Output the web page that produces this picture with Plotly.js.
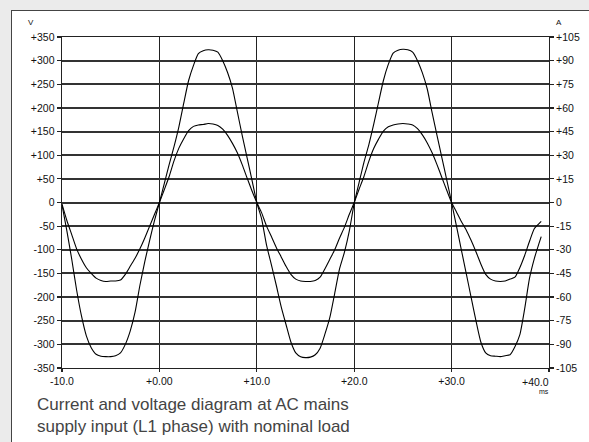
<!DOCTYPE html>
<html><head><meta charset="utf-8">
<script src="https://cdn.plot.ly/plotly-3.0.1.min.js"></script>
<style>
html,body{margin:0;padding:0;background:#ebebeb;width:589px;height:442px;overflow:hidden;}
#panel{position:absolute;left:11px;top:10px;width:600px;height:450px;background:#fff;border-left:1px solid #444;border-top:1px solid #444;}
#chart{position:absolute;left:0;top:0;width:589px;height:442px;}
</style></head>
<body><div id="panel"></div><div id="chart"></div>
<script>
// time in ms
const timeMs = [-10,-9.5,-9,-8.5,-8,-7.5,-7,-6.5,-6,-5.5,-5,-4.5,-4,-3.5,-3,-2.5,-2,-1.5,-1,-0.5,
 0,0.5,1,1.5,2,2.5,3,3.5,4,4.5,5,5.5,6,6.5,7,7.5,8,8.5,9,9.5,
 10,10.5,11,11.5,12,12.5,13,13.5,14,14.5,15,15.5,16,16.5,17,17.5,18,18.5,19,19.5,
 20,20.5,21,21.5,22,22.5,23,23.5,24,24.5,25,25.5,26,26.5,27,27.5,28,28.5,29,29.5,
 30,30.5,31,31.5,32,32.5,33,33.5,34,34.5,35,35.5,36,36.5,37,37.5,38,38.5,39,39.2];
// voltage (V, left axis)
const voltageV = [-5,-60,-120,-185,-240,-282,-307,-321,-325,-326,-326,-324,-318,-300,-272,-232,-175,-125,-80,-38,
 0,40,80,118,160,210,258,290,315,321,323,322,318,300,275,242,192,142,95,48,
 0,-35,-90,-132,-175,-220,-258,-295,-318,-326,-328,-327,-322,-308,-278,-243,-192,-140,-105,-60,
 -2,42,85,122,165,212,258,292,316,322,324,323,318,300,274,240,190,142,95,48,
 0,-50,-100,-150,-200,-250,-295,-318,-324,-325,-326,-324,-322,-305,-280,-225,-160,-118,-85,-72];
// current (A, right axis)
const currentA = [-1,-11.4,-20.4,-29.4,-36,-41.4,-45,-48,-49.5,-50.1,-49.8,-49.8,-49.2,-45.6,-40.5,-35.4,-29.4,-22.5,-15,-7.5,
 0,8.1,16.5,26.4,34.5,40.5,45.6,48.3,49.2,49.5,50.1,49.8,48.9,46.5,42.6,37.5,31.5,24,15.6,7.5,
 0,-6.6,-15,-21.6,-28.5,-34.5,-40.5,-45.6,-48.6,-49.8,-50.1,-50.1,-49.5,-47.4,-42,-36,-30,-22.5,-15.6,-7.5,
 0,8.4,16.5,26.1,34.2,40.2,45.3,48,49.2,49.8,50.1,49.8,49.2,46.8,42.9,37.8,31.5,24,15.9,7.8,
 0,-6,-12,-17.4,-24,-31.2,-39,-45.6,-48.6,-49.8,-50.1,-49.8,-48.6,-47.4,-41.4,-33.6,-24.6,-16.5,-13.2,-12];

const vTicks = [350,300,250,200,150,100,50,0,-50,-100,-150,-200,-250,-300,-350];
const vLabels = ["+350","+300","+250","+200","+150","+100","+50","0","-50","-100","-150","-200","-250","-300","-350"];
const aTicks = [105,90,75,60,45,30,15,0,-15,-30,-45,-60,-75,-90,-105];
const aLabels = ["+105","+90","+75","+60","+45","+30","+15","0","-15","-30","-45","-60","-75","-90","-105"];
const xTicks = [-10,0,10,20,30,40];
const xLabels = ["-10.0","+0.00","+10.0","+20.0","+30.0","+40.0"];
const captionLines = ["Current and voltage diagram at AC mains","supply input (L1 phase) with nominal load"];

const W=589,H=442,L=62,R=40,T=37,B=74;
const pw=W-L-R, ph=H-T-B;
const px=x=>(x-L)/pw, py=y=>(H-B-y)/ph;
const tickFont={family:'"Liberation Sans", Arial, sans-serif',size:10.5,color:'#111'};
const capFont={family:'"Liberation Sans", Arial, sans-serif',size:17,color:'#444'};

const traces=[
 {x:timeMs,y:voltageV,type:'scatter',mode:'lines',line:{color:'#000',width:1.1,shape:'spline',smoothing:0.6},yaxis:'y',hoverinfo:'skip'},
 {x:timeMs,y:currentA,type:'scatter',mode:'lines',line:{color:'#000',width:1.1,shape:'spline',smoothing:0.6},yaxis:'y2',hoverinfo:'skip'}
];

const xText = xLabels.map((t,i)=> i===xLabels.length-1 ? '' : t);
const annotations=[
 {xref:'x',yref:'paper',x:xTicks[xTicks.length-1],y:0,xanchor:'right',yanchor:'top',yshift:-6,xshift:2,text:xLabels[xLabels.length-1],showarrow:false,font:tickFont},
 {xref:'paper',yref:'paper',x:px(544),y:py(391),xanchor:'center',yanchor:'middle',text:'ms',showarrow:false,font:{family:tickFont.family,size:7,color:'#111'}},
 {xref:'paper',yref:'paper',x:px(31),y:py(23),xanchor:'center',yanchor:'middle',text:'V',showarrow:false,font:{family:tickFont.family,size:8,color:'#111'}},
 {xref:'paper',yref:'paper',x:px(559),y:py(23),xanchor:'center',yanchor:'middle',text:'A',showarrow:false,font:{family:tickFont.family,size:8,color:'#111'}},
 {xref:'paper',yref:'paper',x:px(35),y:py(404),xanchor:'left',yanchor:'middle',text:captionLines[0],showarrow:false,font:capFont},
 {xref:'paper',yref:'paper',x:px(35),y:py(426),xanchor:'left',yanchor:'middle',text:captionLines[1],showarrow:false,font:capFont}
];

const layout={
 width:W,height:H,margin:{l:L,r:R,t:T,b:B,pad:0},
 paper_bgcolor:'rgba(0,0,0,0)',plot_bgcolor:'#fff',showlegend:false,
 xaxis:{range:[-10,40],tickmode:'array',tickvals:xTicks,ticktext:xText,showgrid:true,gridcolor:'#222',gridwidth:1.4,
   zeroline:false,showline:true,mirror:true,linecolor:'#222',linewidth:1.4,ticks:'outside',ticklen:3,tickwidth:1.2,tickcolor:'#222',
   tickfont:tickFont,fixedrange:true},
 yaxis:{range:[-350,350],tickmode:'array',tickvals:vTicks,ticktext:vLabels,showgrid:true,gridcolor:'#333',gridwidth:2,
   zeroline:false,showline:true,mirror:true,linecolor:'#222',linewidth:1.4,ticks:'outside',ticklen:4,tickwidth:1.2,tickcolor:'#222',
   tickfont:tickFont,fixedrange:true},
 yaxis2:{range:[-105,105],overlaying:'y',side:'right',tickmode:'array',tickvals:aTicks,ticktext:aLabels,showgrid:false,zeroline:false,
   showline:false,ticks:'outside',ticklen:4,tickwidth:1.2,tickcolor:'#222',tickfont:tickFont,fixedrange:true},
 annotations:annotations
};
Plotly.newPlot('chart',traces,layout,{staticPlot:true,displayModeBar:false});
</script></body></html>
